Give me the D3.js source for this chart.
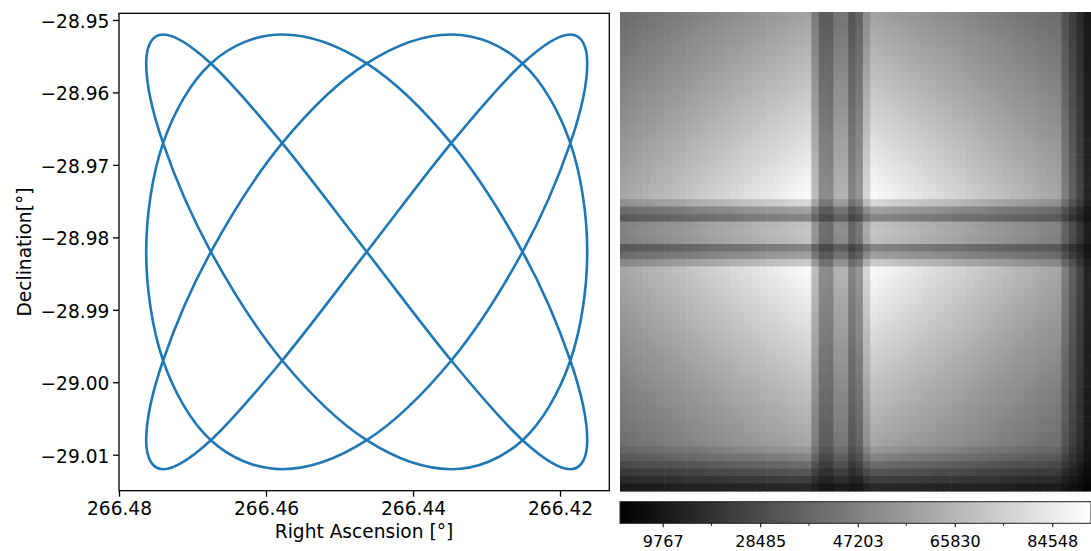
<!DOCTYPE html>
<html>
<head>
<meta charset="utf-8">
<script src="https://d3js.org/d3.v7.min.js"></script>
<style>
	body { margin: 0; background: #fff; }
	text { font-family: "DejaVu Sans", sans-serif; fill: #000; }
</style>
</head>
<body>
<script>

var W = 1091, H = 551;

// scan track of the left panel, degrees
var scanRA = [266.4463, 266.4578, 266.4675, 266.4740, 266.4763, 266.4740, 266.4675, 266.4578,
	266.4463, 266.4348, 266.4251, 266.4186, 266.4163, 266.4186, 266.4251, 266.4348,
	266.4463, 266.4578, 266.4675, 266.4740, 266.4763, 266.4740, 266.4675, 266.4578,
	266.4463, 266.4348, 266.4251, 266.4186, 266.4163, 266.4186, 266.4251, 266.4348,
	266.4463, 266.4578, 266.4675, 266.4740, 266.4763, 266.4740, 266.4675, 266.4578,
	266.4463, 266.4348, 266.4251, 266.4186, 266.4163, 266.4186, 266.4251, 266.4348];
var scanDec = [-28.9560, -28.9520, -28.9560, -28.9670, -28.9820, -28.9970, -29.0080, -29.0120, -29.0080, -28.9970, -28.9820, -28.9670,
	-28.9560, -28.9520, -28.9560, -28.9670, -28.9820, -28.9970, -29.0080, -29.0120, -29.0080, -28.9970, -28.9820, -28.9670,
	-28.9560, -28.9520, -28.9560, -28.9670, -28.9820, -28.9970, -29.0080, -29.0120, -29.0080, -28.9970, -28.9820, -28.9670,
	-28.9560, -28.9520, -28.9560, -28.9670, -28.9820, -28.9970, -29.0080, -29.0120, -29.0080, -28.9970, -28.9820, -28.9670];

var raTicks = [266.48, 266.46, 266.44, 266.42];
var decTicks = [-28.95, -28.96, -28.97, -28.98, -28.99, -29.00, -29.01];

// coverage map (right panel): relative exposure per column and per row
var colProfile = [0.661, 0.674, 0.688, 0.701, 0.714, 0.727, 0.740, 0.754, 0.767, 0.780,
	0.794, 0.807, 0.820, 0.833, 0.846, 0.860, 0.873, 0.886, 0.900, 0.913,
	0.926, 0.939, 0.952, 0.966, 0.979, 0.992, 0.750, 0.560, 0.550, 0.710,
	0.710, 0.520, 0.600, 0.850, 0.988, 0.974, 0.961, 0.948, 0.934, 0.921,
	0.908, 0.895, 0.882, 0.868, 0.855, 0.842, 0.829, 0.815, 0.802, 0.789,
	0.776, 0.762, 0.749, 0.736, 0.723, 0.709, 0.696, 0.683, 0.670, 0.656,
	0.500, 0.380, 0.270, 0.150];
var rowProfile = [0.646, 0.660, 0.675, 0.689, 0.703, 0.717, 0.731, 0.746, 0.760, 0.774,
	0.788, 0.803, 0.817, 0.831, 0.845, 0.859, 0.874, 0.888, 0.902, 0.916,
	0.931, 0.945, 0.959, 0.973, 0.988, 0.850, 0.640, 0.530, 0.770, 0.780,
	0.760, 0.520, 0.630, 0.800, 0.988, 0.974, 0.960, 0.945, 0.931, 0.917,
	0.903, 0.888, 0.874, 0.860, 0.846, 0.831, 0.817, 0.803, 0.789, 0.774,
	0.760, 0.746, 0.732, 0.718, 0.703, 0.689, 0.675, 0.661, 0.600, 0.520,
	0.430, 0.340, 0.250, 0.160];
var countRange = [1570, 91980];
var cbarTicks = [9767, 28485, 47203, 65830, 84548];
var cbarMinor = [19126, 37844, 56517, 75189];

var svg = d3.select("body")
	.append("svg")
	.attr("width", W)
	.attr("height", H);

// ---------- left: scan track ----------
var x = d3.scaleLinear().domain([266.48, 266.4133]).range([119, 609.3]);
var y = d3.scaleLinear().domain([-28.94908, -29.01497]).range([13.3, 490.7]);

var pts = scanRA.map(function(d, i) { return [d, scanDec[i]]; });

svg.append("path")
	.datum(pts)
	.attr("d", d3.line()
		.x(function(d) { return x(d[0]); })
		.y(function(d) { return y(d[1]); })
		.curve(d3.curveCatmullRomClosed.alpha(0)))
	.attr("fill", "none")
	.attr("stroke", "#1f77b4")
	.attr("stroke-width", 2.6);

var xAxis = svg.append("g")
	.attr("transform", "translate(0,490.7)")
	.call(d3.axisBottom(x).tickValues(raTicks).tickFormat(d3.format(".2f"))
		.tickSize(6).tickPadding(5.5).tickSizeOuter(0));
var yAxis = svg.append("g")
	.attr("transform", "translate(119,0)")
	.call(d3.axisLeft(y).tickValues(decTicks).tickFormat(d3.format(".2f"))
		.tickSize(6).tickPadding(3.7).tickSizeOuter(0));
yAxis.selectAll("text").attr("dy", "0.4em");

[xAxis, yAxis].forEach(function(a) {
	a.select(".domain").remove();
	a.selectAll("line").attr("stroke", "#000").attr("stroke-width", 1.3);
	a.selectAll("text").attr("font-size", "18.6px").attr("font-family", "DejaVu Sans").attr("fill", "#000");
});

svg.append("rect")
	.attr("x", 119).attr("y", 13.3)
	.attr("width", 609.3 - 119).attr("height", 490.7 - 13.3)
	.attr("fill", "none")
	.attr("stroke", "#000")
	.attr("stroke-width", 1.3);

svg.append("text")
	.attr("x", 364).attr("y", 538)
	.attr("text-anchor", "middle")
	.attr("font-size", "18.6px")
	.text("Right Ascension [°]");

svg.append("text")
	.attr("transform", "translate(31,252) rotate(-90)")
	.attr("text-anchor", "middle")
	.attr("font-size", "18.6px")
	.text("Declination[°]");

// ---------- right: coverage map ----------
var cx = d3.scaleBand().domain(d3.range(colProfile.length)).range([620, 1091]);
var cy = d3.scaleBand().domain(d3.range(rowProfile.length)).range([12, 491]);
var gray = d3.scaleLinear().domain(countRange).range(["#000", "#fff"]).clamp(true);

var cells = [];
rowProfile.forEach(function(r, j) {
	colProfile.forEach(function(c, i) {
		cells.push({ i: i, j: j, v: countRange[0] + (countRange[1] - countRange[0]) * c * r });
	});
});

svg.append("g")
	.selectAll("rect")
	.data(cells)
	.enter()
	.append("rect")
	.attr("x", function(d) { return cx(d.i); })
	.attr("y", function(d) { return cy(d.j); })
	.attr("width", cx.bandwidth() + 0.6)
	.attr("height", cy.bandwidth() + 0.6)
	.attr("fill", function(d) { return gray(d.v); });

// colorbar
var cb = d3.scaleLinear().domain(countRange).range([620, 1091]);
var grad = svg.append("defs").append("linearGradient")
	.attr("id", "cbg").attr("x1", "0%").attr("x2", "100%");
grad.append("stop").attr("offset", "0%").attr("stop-color", gray(countRange[0]));
grad.append("stop").attr("offset", "100%").attr("stop-color", gray(countRange[1]));

svg.append("rect")
	.attr("x", 620).attr("y", 501.7)
	.attr("width", 471).attr("height", 21.6)
	.attr("fill", "url(#cbg)")
	.attr("stroke", "#222")
	.attr("stroke-width", 1);

var cbAxis = svg.append("g")
	.attr("transform", "translate(0,523.3)")
	.call(d3.axisBottom(cb).tickValues(cbarTicks).tickFormat(d3.format("d"))
		.tickSize(4).tickPadding(8.3).tickSizeOuter(0));
cbAxis.select(".domain").remove();
cbAxis.selectAll("line").attr("stroke", "#000").attr("stroke-width", 1);
cbAxis.selectAll("text").attr("font-size", "16px").attr("font-family", "DejaVu Sans").attr("fill", "#000");

svg.append("g")
	.selectAll("line")
	.data(cbarMinor)
	.enter()
	.append("line")
	.attr("x1", function(d) { return cb(d); })
	.attr("x2", function(d) { return cb(d); })
	.attr("y1", 523.3).attr("y2", 526)
	.attr("stroke", "#000")
	.attr("stroke-width", 0.8);

</script>
</body>
</html>
